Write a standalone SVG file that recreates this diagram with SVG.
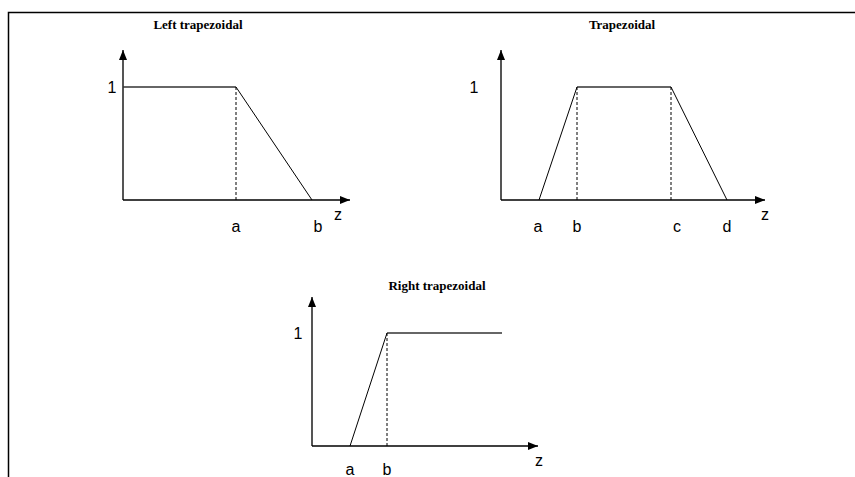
<svg xmlns="http://www.w3.org/2000/svg" width="855" height="477" viewBox="0 0 855 477">
<defs>
<style>
.frame{fill:none;stroke:#000;stroke-width:1.5}
.yax{fill:none;stroke:#555;stroke-width:2}
.xax{fill:none;stroke:#000;stroke-width:1.3}
.top{fill:none;stroke:#333;stroke-width:1.5}
.slope{fill:none;stroke:#000;stroke-width:1}
.dash{fill:none;stroke:#000;stroke-width:1;stroke-dasharray:3,2}
.lbl{font-family:"Liberation Sans",Arial,sans-serif;font-size:16px;fill:#000;text-anchor:middle}
.ttl{font-family:"Liberation Serif","Times New Roman",serif;font-size:13px;font-weight:bold;fill:#000;text-anchor:middle}
</style>
<marker id="ah" viewBox="0 0 10 10" refX="10" refY="5" markerWidth="10" markerHeight="10" markerUnits="userSpaceOnUse" orient="auto">
<path d="M0,1 L10,5 L0,9 Z" fill="#000"/>
</marker>
</defs>
<rect width="855" height="477" fill="#fff"/>
<path class="frame" d="M8.5,477 V12.5 H855"/>

<g id="left-trapezoidal">
<text class="ttl" x="198" y="29">Left trapezoidal</text>
<g id="left-connectors">
<line class="yax" x1="123" y1="200" x2="123" y2="50" marker-end="url(#ah)"/>
<line class="xax" x1="123" y1="200" x2="350" y2="200" marker-end="url(#ah)"/>
<line class="top" x1="123" y1="87" x2="236" y2="87"/>
<line class="dash" x1="236" y1="87" x2="236" y2="200"/>
<line class="slope" x1="236" y1="87" x2="312" y2="200"/>
</g>
<text class="lbl" x="112" y="93">1</text>
<text class="lbl" x="236" y="232">a</text>
<text class="lbl" x="318" y="232">b</text>
<text class="lbl" x="338" y="220">z</text>
</g>

<g id="trapezoidal">
<text class="ttl" x="622" y="29">Trapezoidal</text>
<g id="trap-connectors">
<line class="yax" x1="501" y1="200" x2="501" y2="50" marker-end="url(#ah)"/>
<line class="xax" x1="501" y1="200" x2="765" y2="200" marker-end="url(#ah)"/>
<line class="slope" x1="539" y1="200" x2="577" y2="87"/>
<line class="top" x1="577" y1="87" x2="671" y2="87"/>
<line class="slope" x1="671" y1="87" x2="727" y2="200"/>
<line class="dash" x1="577" y1="87" x2="577" y2="200"/>
<line class="dash" x1="671" y1="87" x2="671" y2="200"/>
</g>
<text class="lbl" x="474" y="93">1</text>
<text class="lbl" x="538" y="232">a</text>
<text class="lbl" x="577" y="232">b</text>
<text class="lbl" x="677" y="232">c</text>
<text class="lbl" x="727" y="232">d</text>
<text class="lbl" x="765" y="220">z</text>
</g>

<g id="right-trapezoidal">
<text class="ttl" x="437" y="290">Right  trapezoidal</text>
<g id="right-connectors">
<line class="yax" x1="312" y1="446" x2="312" y2="297" marker-end="url(#ah)"/>
<line class="xax" x1="312" y1="446" x2="538" y2="446" marker-end="url(#ah)"/>
<line class="slope" x1="350" y1="446" x2="387" y2="333"/>
<line class="top" x1="387" y1="333" x2="502" y2="333"/>
<line class="dash" x1="387" y1="333" x2="387" y2="446"/>
</g>
<text class="lbl" x="298" y="339">1</text>
<text class="lbl" x="350" y="475">a</text>
<text class="lbl" x="387" y="475">b</text>
<text class="lbl" x="539" y="466">z</text>
</g>
</svg>
